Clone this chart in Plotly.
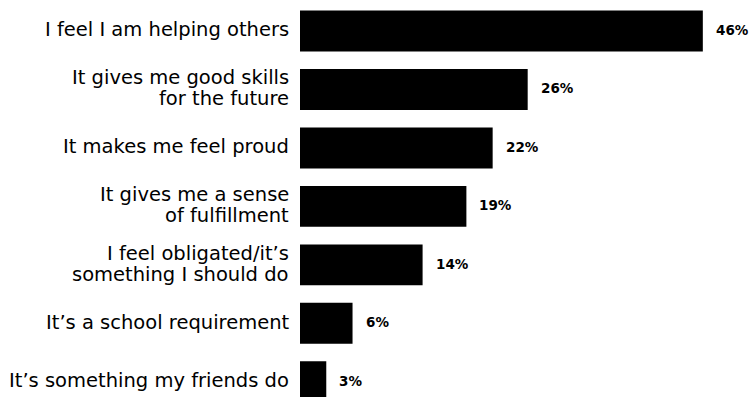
import plotly.graph_objects as go

# Reasons for volunteering (share of respondents, %)
reasons = [
    "I feel I am helping others",
    "It gives me good skills\nfor the future",
    "It makes me feel proud",
    "It gives me a sense\nof fulfillment",
    "I feel obligated/it\u2019s\nsomething I should do",
    "It\u2019s a school requirement",
    "It\u2019s something my friends do",
]
shares = [46, 26, 22, 19, 14, 6, 3]
share_labels = [f"{v}%" for v in shares]

FONT = "DejaVu Sans"
LINE_STEP = 21  # px between the two lines of a wrapped label

fig = go.Figure(
    go.Bar(
        x=shares,
        y=reasons,
        orientation="h",
        marker=dict(color="#000000", line=dict(width=0)),
        width=0.7,
        hoverinfo="skip",
    )
)

# Category labels, right-aligned to the left of each bar
for r in reasons:
    lines = r.split("\n")
    n = len(lines)
    for i, line in enumerate(lines):
        offset = ((n - 1) / 2 - i) * LINE_STEP
        fig.add_annotation(
            x=0, y=r, text=line, showarrow=False,
            xanchor="right", yanchor="middle", xshift=-9, yshift=offset + 1,
            font=dict(family=FONT, size=19.5, color="#000000"),
        )

# Value labels just past the end of each bar
for r, v, t in zip(reasons, shares, share_labels):
    fig.add_annotation(
        x=v, y=r, text=t, showarrow=False,
        xanchor="left", yanchor="middle", xshift=11, yshift=1,
        font=dict(family=FONT, size=13.5, color="#000000", weight="bold"),
    )

fig.update_layout(
    width=751, height=397,
    margin=dict(l=300, r=0, t=0, b=0),
    paper_bgcolor="white", plot_bgcolor="white",
    showlegend=False,
)
fig.update_xaxes(range=[0, 51.5], visible=False)
fig.update_yaxes(
    range=[6.26, -0.53],
    showgrid=False, zeroline=False, showline=False,
    showticklabels=False, ticks="",
)

fig.write_html("out.html")
